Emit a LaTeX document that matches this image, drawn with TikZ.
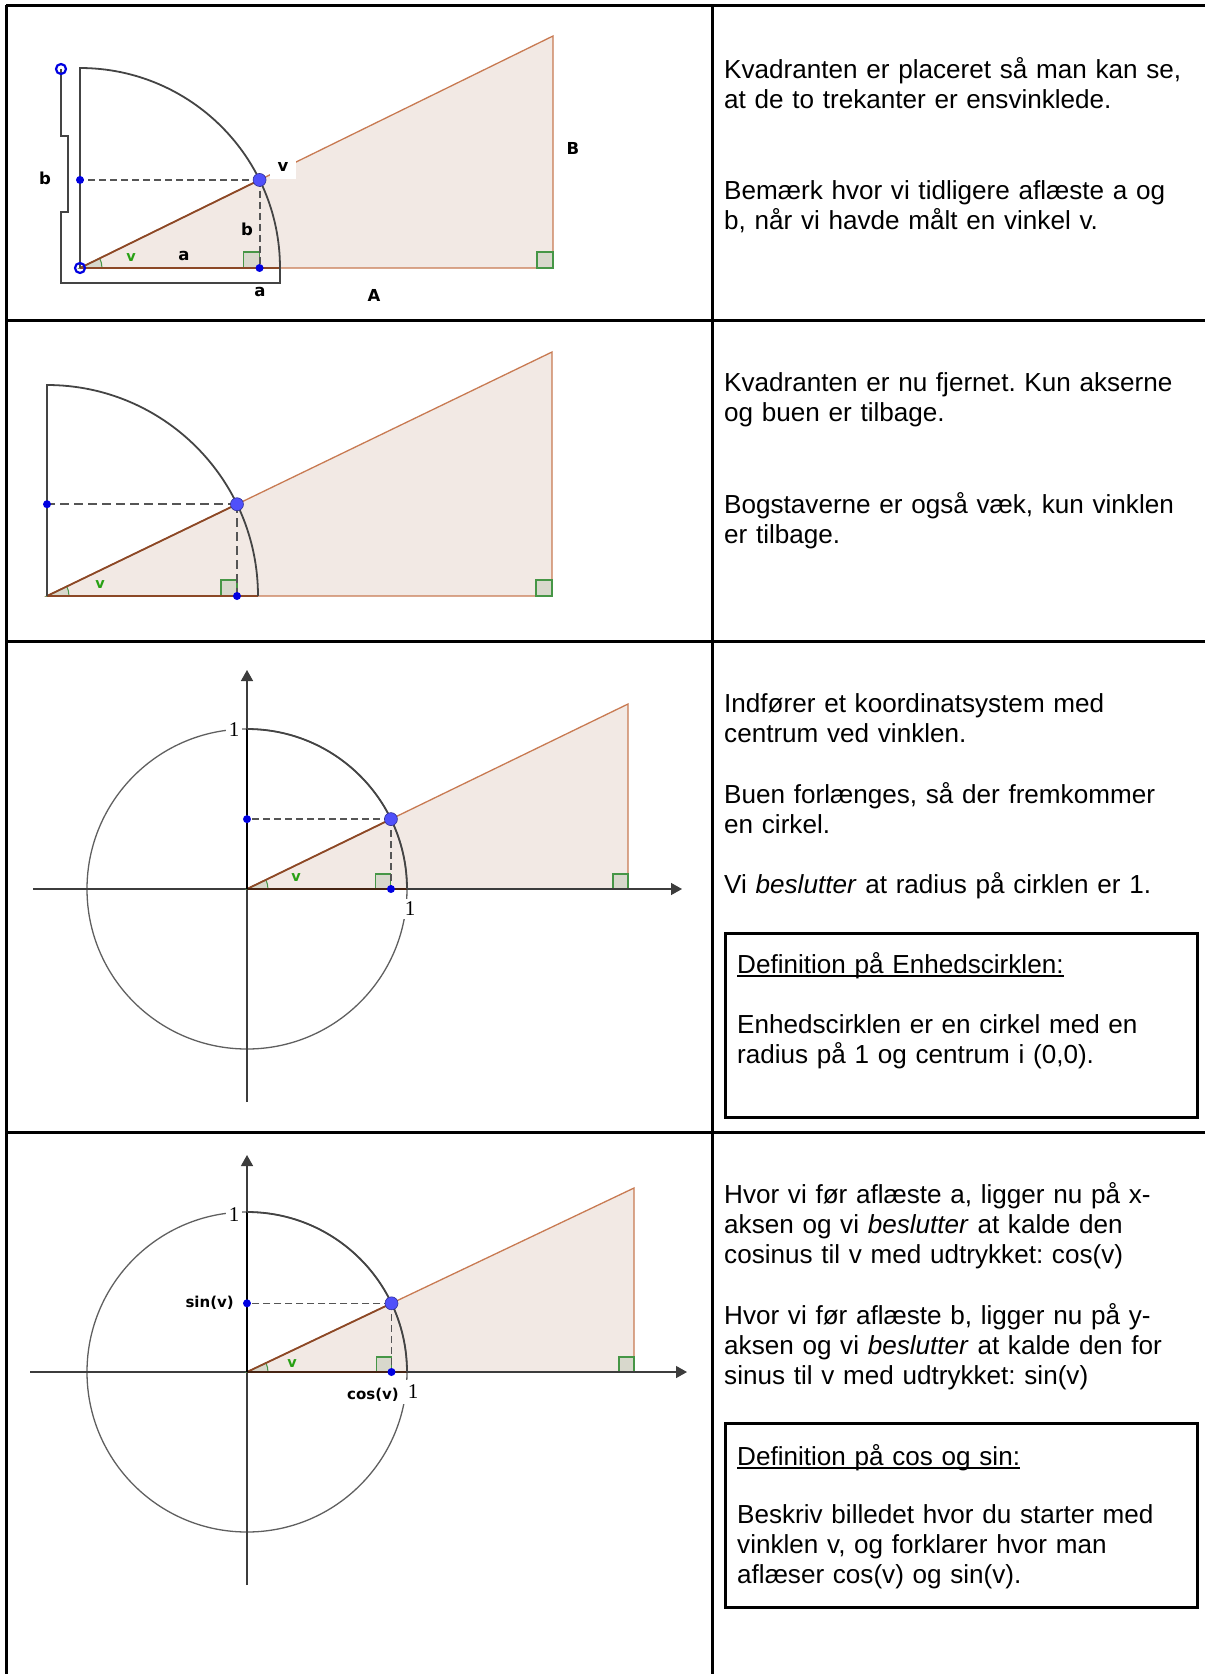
\documentclass[tikz,border=0pt]{standalone}
\usepackage{fontspec}
\setmainfont{Liberation Sans}
\newfontfamily\ggfont{DejaVu Sans}
\newfontfamily\numfont{Liberation Serif}
\usetikzlibrary{arrows.meta}
\frenchspacing

\definecolor{trifill}{RGB}{242,233,228}
\definecolor{triedge}{RGB}{200,122,82}
\definecolor{hypbrown}{RGB}{140,72,38}
\definecolor{arcgray}{RGB}{68,68,68}
\definecolor{circgray}{RGB}{95,95,95}
\definecolor{axisgray}{RGB}{60,60,60}
\definecolor{projgray}{RGB}{85,85,85}
\definecolor{markgreen}{RGB}{70,150,70}
\definecolor{markfill}{RGB}{216,216,204}
\definecolor{vgreen}{RGB}{40,160,20}
\definecolor{pblue}{RGB}{80,80,250}
\definecolor{dotblue}{RGB}{0,0,225}

\newcommand\bodyfont{\fontsize{26.1}{30}\selectfont}
\newsavebox\ulbox
\newcommand\ulword[1]{\sbox\ulbox{#1}\rlap{\rule[-4pt]{\wd\ulbox}{1.6pt}}\usebox\ulbox}

\begin{document}
\begin{tikzpicture}[x=1pt, y=-1pt,
        % tabel og tekst
        frame/.style={line width=3pt},
        defbox/.style={draw, line width=3pt},
        txt/.style={anchor=base west, inner sep=0pt, text width=475pt, align=left, font=\bodyfont},
        boxtxt/.style={txt, text width=450pt},
        % geometri
        tri/.style={fill=trifill, draw=triedge, line width=1.3pt},
        hyp/.style={draw=hypbrown, line width=1.8pt},
        quad/.style={draw=arcgray, line width=1.8pt},
        fullcirc/.style={draw=circgray, line width=1.3pt},
        axis/.style={draw=axisgray, line width=1.4pt, -{Triangle[length=11pt,width=12pt]}},
        proj/.style={draw=projgray, line width=1.9pt, dash pattern=on 7pt off 4pt},
        rightmark/.style={draw=markgreen, fill=markfill, line width=1.1pt},
        anglemark/.style={draw=markgreen, fill=markfill, line width=1pt},
        bigdot/.style={circle, fill=pblue, draw=pblue!60!black, line width=0.6pt, inner sep=0pt, minimum size=13pt},
        dot/.style={circle, fill=dotblue, inner sep=0pt, minimum size=8pt},
        ring/.style={circle, draw=dotblue, line width=2.2pt, inner sep=0pt, minimum size=10pt},
        lab/.style={font=\ggfont\bfseries\fontsize{16.5}{16.5}\selectfont, inner sep=1pt},
        vlab/.style={lab, text=vgreen, font=\ggfont\bfseries\fontsize{14.5}{14.5}\selectfont},
        trig/.style={lab, font=\ggfont\bfseries\fontsize{15}{15}\selectfont},
        numlab/.style={font=\numfont\fontsize{21}{21}\selectfont, fill=white, inner sep=3pt}
    ]
    \useasboundingbox (0,0) rectangle (1205,1674);

    % Tabellen
    \draw[frame] (6,5) -- (1210,5);
    \draw[frame] (6,5) -- (6,1680);
    \draw[frame] (712,5) -- (712,1680);
    \foreach \yy in {320,641,1132}
        \draw[frame] (6,\yy) -- (1210,\yy);

    % Felt 1: kvadranten lagt paa trekanten
    \begin{scope}[shift={(80,268)}, yscale=-1]
        \pgfmathsetmacro\angA{atan(232/473)}
        \pgfmathsetmacro\pxA{200*cos(\angA)}
        \pgfmathsetmacro\pyA{200*sin(\angA)}
        \draw[tri] (0,0) -- (473,0) -- (473,232) -- cycle;
        \draw[rightmark] (\pxA-16,0) rectangle (\pxA,16);
        \draw[rightmark] (457,0) rectangle (473,16);
        \draw[anglemark] (0,0) -- (22,0) arc[start angle=0, end angle=\angA, radius=22] -- cycle;
        \draw[hyp] (0,0) -- (\angA:200);
        \draw[hyp] (0,0) -- (200,0);
        \draw[quad] (0,0) -- (0,200) arc[start angle=90, end angle=0, radius=200];
        \draw[quad, line width=1.5pt] (-19,199) -- (-19,132) -- (-12,132) -- (-12,56) -- (-19,56)
            -- (-19,-15) -- (200,-15) -- (200,0);
        \coordinate (P1) at (\angA:200);
        \coordinate (Y1) at (0,\pyA);
        \coordinate (X1) at (\pxA,0);
        \draw[proj] (P1) -- (Y1);
        \draw[proj] (P1) -- (X1);
        \node[dot] (y1) at (Y1) {};
        \node[dot] (x1) at (X1) {};
        \node[bigdot] (p1) at (P1) {};
        \node[ring] (top1) at (-19,199) {};
        \node[ring] (o1) at (0,0) {};
        \node[lab, fill=white, minimum width=26pt, minimum height=23pt] (v1) at (203,101) {v};
        \node[vlab] (vg1) at (51,10) {v};
        \node[lab] (a1) at (104,12) {a};
        \node[lab] (b1) at (167,39) {b};
        \node[lab] (a1b) at (180,-24) {a};
        \node[lab] (A1) at (294,-27) {A};
        \node[lab] (B1) at (493,120) {B};
        \node[lab] (b1l) at (-35,90) {b};
    \end{scope}

    % Felt 2: kun akser og bue
    \begin{scope}[shift={(47,596)}, yscale=-1]
        \pgfmathsetmacro\angB{atan(244/505)}
        \pgfmathsetmacro\pxB{211*cos(\angB)}
        \pgfmathsetmacro\pyB{211*sin(\angB)}
        \draw[tri] (0,0) -- (505,0) -- (505,244) -- cycle;
        \draw[rightmark] (\pxB-16,0) rectangle (\pxB,16);
        \draw[rightmark] (489,0) rectangle (505,16);
        \draw[anglemark] (0,0) -- (22,0) arc[start angle=0, end angle=\angB, radius=22] -- cycle;
        \draw[hyp] (0,0) -- (\angB:211);
        \draw[hyp] (0,0) -- (211,0);
        \draw[quad] (0,0) -- (0,211) arc[start angle=90, end angle=0, radius=211];
        \coordinate (P2) at (\angB:211);
        \coordinate (Y2) at (0,\pyB);
        \coordinate (X2) at (\pxB,0);
        \draw[proj, dash pattern=on 9pt off 5pt] (P2) -- (Y2);
        \draw[proj, dash pattern=on 9pt off 5pt] (P2) -- (X2);
        \node[dot] (y2) at (Y2) {};
        \node[dot] (x2) at (X2) {};
        \node[bigdot] (p2) at (P2) {};
        \node[vlab] (vg2) at (53,11) {v};
    \end{scope}

    % Felt 3: koordinatsystem og cirkel
    \begin{scope}[shift={(247,889)}, yscale=-1]
        \pgfmathsetmacro\angC{atan(185/381)}
        \pgfmathsetmacro\pxC{160*cos(\angC)}
        \pgfmathsetmacro\pyC{160*sin(\angC)}
        \draw[tri] (0,0) -- (381,0) -- (381,185) -- cycle;
        \draw[rightmark] (\pxC-15,0) rectangle (\pxC,15);
        \draw[rightmark] (366,0) rectangle (381,15);
        \draw[fullcirc] (0,0) circle[radius=160];
        \draw[axis] (-214,0) -- (435,0);
        \draw[axis] (0,-213) -- (0,219);
        \draw[anglemark] (0,0) -- (21,0) arc[start angle=0, end angle=\angC, radius=21] -- cycle;
        \draw[hyp] (0,0) -- (\angC:160);
        \draw[line width=2pt, draw=hypbrown!50!black] (0,0) -- (160,0);
        \draw[line width=2pt] (0,0) -- (0,160);
        \draw[quad] (0,160) arc[start angle=90, end angle=0, radius=160];
        \coordinate (P3) at (\angC:160);
        \coordinate (Y3) at (0,\pyC);
        \coordinate (X3) at (\pxC,0);
        \draw[proj, line width=1.5pt] (P3) -- (Y3);
        \draw[proj, line width=1.5pt] (P3) -- (X3);
        \node[dot] (y3) at (Y3) {};
        \node[dot] (x3) at (X3) {};
        \node[bigdot] (p3) at (P3) {};
        \node[vlab] (vg3) at (49,11) {v};
        \node[numlab] (oney3) at (-13,159) {1};
        \node[numlab] (onex3) at (163,-20) {1};
    \end{scope}

    % Felt 4: cos og sin
    \begin{scope}[shift={(247,1372)}, yscale=-1]
        \pgfmathsetmacro\angD{atan(184/387)}
        \pgfmathsetmacro\pxD{160*cos(\angD)}
        \pgfmathsetmacro\pyD{160*sin(\angD)}
        \draw[tri] (0,0) -- (387,0) -- (387,184) -- cycle;
        \draw[rightmark] (\pxD-15,0) rectangle (\pxD,15);
        \draw[rightmark] (372,0) rectangle (387,15);
        \draw[fullcirc] (0,0) circle[radius=160];
        \draw[axis] (-217,0) -- (440,0);
        \draw[axis] (0,-213) -- (0,217);
        \draw[anglemark] (0,0) -- (21,0) arc[start angle=0, end angle=\angD, radius=21] -- cycle;
        \draw[hyp] (0,0) -- (\angD:160);
        \draw[line width=2pt, draw=hypbrown!50!black] (0,0) -- (160,0);
        \draw[line width=2pt] (0,0) -- (0,160);
        \draw[quad] (0,160) arc[start angle=90, end angle=0, radius=160];
        \coordinate (P4) at (\angD:160);
        \coordinate (Y4) at (0,\pyD);
        \coordinate (X4) at (\pxD,0);
        \draw[proj, line width=1.5pt] (P4) -- (Y4);
        \draw[proj, line width=1.5pt] (P4) -- (X4);
        \node[dot] (y4) at (Y4) {};
        \node[dot] (x4) at (X4) {};
        \node[bigdot] (p4) at (P4) {};
        \node[vlab] (vg4) at (45,8) {v};
        \node[numlab] (oney4) at (-13,157) {1};
        \node[numlab, inner sep=5pt] (onex4) at (166,-20) {1};
        \node[trig, anchor=east] (sin4) at (-12,69) {sin(v)};
        \node[trig, fill=white] (cos4) at (126,-23) {cos(v)};
    \end{scope}

    % Tekster i hoejre kolonne
    \node[txt] (t1a) at (724,78) {Kvadranten er placeret så man kan se,\\at de to trekanter er ensvinklede.};
    \node[txt] (t1b) at (724,199) {Bemærk hvor vi tidligere aflæste a og\\b, når vi havde målt en vinkel v.};
    \node[txt] (t2a) at (724,391) {Kvadranten er nu fjernet. Kun akserne\\og buen er tilbage.};
    \node[txt] (t2b) at (724,513) {Bogstaverne er også væk, kun vinklen\\er tilbage.};
    \node[txt] (t3a) at (724,712) {Indfører et koordinatsystem med\\centrum ved vinklen.};
    \node[txt] (t3b) at (724,803) {Buen forlænges, så der fremkommer\\en cirkel.};
    \node[txt] (t3c) at (724,893) {Vi \textit{beslutter} at radius på cirklen er 1.};
    \draw[defbox] (725,933) rectangle (1197,1117);
    \node[boxtxt] (d1a) at (737,973) {\ulword{Definition på Enhedscirklen:}};
    \node[boxtxt] (d1b) at (737,1033) {Enhedscirklen er en cirkel med en\\radius på 1 og centrum i (0,0).};
    \node[txt] (t4a) at (724,1203) {Hvor vi før aflæste a, ligger nu på x-\\aksen og vi \textit{beslutter} at kalde den\\cosinus til v med udtrykket: cos(v)};
    \node[txt] (t4b) at (724,1324) {Hvor vi før aflæste b, ligger nu på y-\\aksen og vi \textit{beslutter} at kalde den for\\sinus til v med udtrykket: sin(v)};
    \draw[defbox] (725,1423) rectangle (1197,1607);
    \node[boxtxt] (d2a) at (737,1465) {\ulword{Definition på cos og sin:}};
    \node[boxtxt] (d2b) at (737,1523) {Beskriv billedet hvor du starter med\\vinklen v, og forklarer hvor man\\aflæser cos(v) og sin(v).};

\end{tikzpicture}
\end{document}
